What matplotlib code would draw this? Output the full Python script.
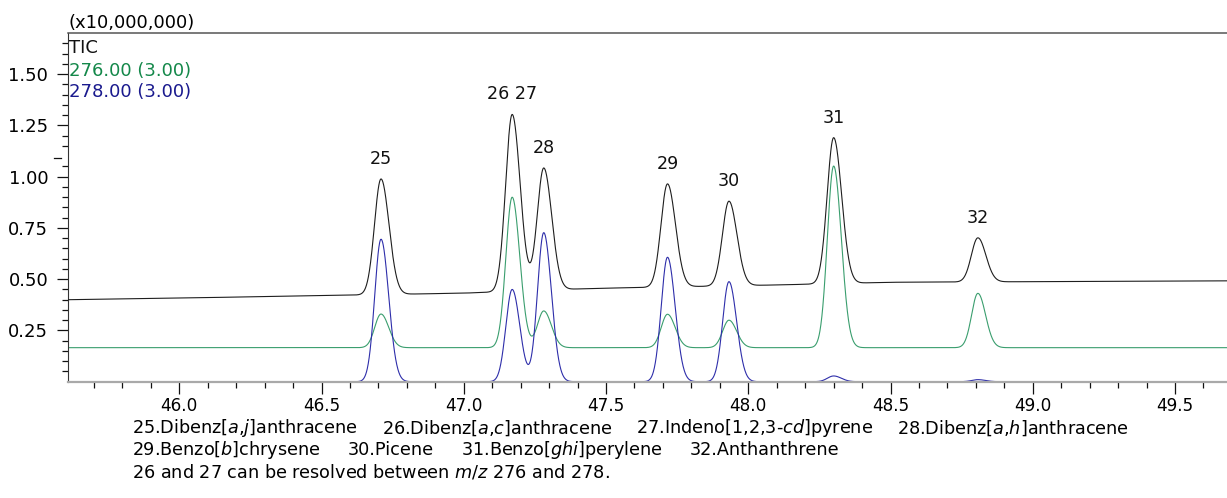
import numpy as np
import matplotlib
matplotlib.use("Agg")
import matplotlib.pyplot as plt
from matplotlib.ticker import FixedLocator, FormatStrFormatter
from matplotlib.transforms import blended_transform_factory

plt.rcParams["font.family"] = ["DejaVu Sans"]

# ---------------- data ----------------
peak_labels = ["25", "26 27", "28", "29", "30", "31", "32"]
peak_rt = [46.709, 47.170, 47.281, 47.716, 47.932, 48.300, 48.807]
tic_amp = [0.564, 0.863, 0.596, 0.503, 0.413, 0.712, 0.215]
mz276_amp = [0.164, 0.734, 0.179, 0.163, 0.134, 0.886, 0.265]
mz278_amp = [0.695, 0.450, 0.727, 0.607, 0.488, 0.028, 0.010]
peak_sigma = {"TIC": 0.025, "276": 0.024, "278": 0.024}
tic_base_rt = [45.61, 46.0, 46.5, 47.0, 47.45, 48.1, 48.5, 49.68]
tic_base_val = [0.400, 0.408, 0.420, 0.432, 0.455, 0.472, 0.485, 0.492]
mz276_base = 0.166
mz278_base = 0.0
trace_names = ["TIC", "276.00 (3.00)", "278.00 (3.00)"]
x_ticks = [46.0, 46.5, 47.0, 47.5, 48.0, 48.5, 49.0, 49.5]
y_ticks = [0.25, 0.50, 0.75, 1.00, 1.25, 1.50]
scale_label = "(x10,000,000)"
caption_line1 = [r"25.Dibenz[$\mathit{a{,}j}$]anthracene",
                 r"26.Dibenz[$\mathit{a{,}c}$]anthracene",
                 r"27.Indeno[1,2,3-$\mathit{cd}$]pyrene",
                 r"28.Dibenz[$\mathit{a{,}h}$]anthracene"]
caption_line2 = [r"29.Benzo[$\mathit{b}$]chrysene",
                 "30.Picene",
                 r"31.Benzo[$\mathit{ghi}$]perylene",
                 "32.Anthanthrene"]
caption_line3 = r"26 and 27 can be resolved between $\mathit{m/z}$ 276 and 278."

# ---------------- figure ----------------
W, H = 1227, 498
fig = plt.figure(figsize=(W / 100, H / 100), dpi=100)
ax_l, ax_b, ax_t = 68, 381.7, 32.7
ax = fig.add_axes([ax_l / W, (H - ax_b) / H, 1 - ax_l / W, (ax_b - ax_t) / H])

x0 = 46.0 - (179.3 - ax_l) / 284.5
x1 = 46.0 + (W - 179.3) / 284.5
t = np.linspace(x0, x1, 6000)


def peak_shape(x, center, sigma):
    s = np.where(x < center, sigma * 0.92, sigma * 1.12)
    return np.exp(-0.5 * ((x - center) / s) ** 2)


def trace(base, amps, sigma):
    y = np.array(base, dtype=float) * np.ones_like(t)
    for rt, a in zip(peak_rt, amps):
        y = y + a * peak_shape(t, rt, sigma)
    return y


tic = trace(np.interp(t, tic_base_rt, tic_base_val), tic_amp, peak_sigma["TIC"])
g276 = trace(mz276_base, mz276_amp, peak_sigma["276"])
b278 = trace(mz278_base, mz278_amp, peak_sigma["278"])

c_tic, c_276, c_278 = "#1e1e1e", "#3a9e6e", "#2e2eaa"
ax.plot(t, tic, color=c_tic, lw=0.8, zorder=3)
ax.plot(t, g276, color=c_276, lw=0.8, zorder=2)
ax.plot(t, b278, color=c_278, lw=0.8, zorder=2.2)

ax.set_xlim(x0, x1)
ax.set_ylim(0, (ax_b - ax_t) / 205.0)

# peak labels
for lab, rt in zip(peak_labels, peak_rt):
    m = np.abs(t - rt) < 0.02
    apex = tic[m].max()
    ax.annotate(lab, xy=(rt, apex), xytext=(0, 14.4), textcoords="offset points",
                ha="center", va="center", fontsize=12.6, color="#111111")

# spines
ax.spines["right"].set_visible(False)
ax.spines["top"].set_color("#555555")
ax.spines["top"].set_linewidth(1.1)
ax.spines["left"].set_color("#333333")
ax.spines["left"].set_linewidth(0.8)
ax.spines["bottom"].set_color("#a9a9a9")
ax.spines["bottom"].set_linewidth(1.6)
ax.spines["bottom"].set_zorder(4)

# ticks
ax.xaxis.set_major_locator(FixedLocator(x_ticks))
ax.xaxis.set_minor_locator(FixedLocator(np.round(np.arange(45.7, 49.7, 0.1), 2)))
ax.xaxis.set_major_formatter(FormatStrFormatter("%.1f"))
ax.yaxis.set_major_locator(FixedLocator(y_ticks))
ymin_ticks = [v for v in np.round(np.arange(0.05, 1.70, 0.05), 2)
              if v not in y_ticks and abs(v - 1.10) > 1e-6]
ax.yaxis.set_minor_locator(FixedLocator(ymin_ticks))
ax.yaxis.set_major_formatter(FormatStrFormatter("%.2f"))
ax.tick_params(axis="x", which="major", direction="out", length=8.4, width=0.9,
               color="#111111", pad=2.8, labelsize=12.2)
ax.tick_params(axis="x", which="minor", direction="out", length=4.3, width=0.9,
               color="#111111")
ax.tick_params(axis="y", which="major", direction="out", length=7.7, width=0.9,
               color="#111111", pad=6.5, labelsize=13)
ax.tick_params(axis="y", which="minor", direction="out", length=4.3, width=0.9,
               color="#111111")

# odd offset tick near 1.10
tr = blended_transform_factory(ax.transAxes, ax.transData)
ax.plot([(54.3 - ax_l) / (W - ax_l), (61 - ax_l) / (W - ax_l)], [1.09, 1.09],
        color="#111111", lw=0.9, transform=tr, clip_on=False)

# header texts
fig.text(69 / W, (H - 23) / H, scale_label, fontsize=13, va="center", ha="left")
for name, yc, col in zip(trace_names, [47.7, 70.7, 92.3], ["#111111", "#14884a", "#1a1a8e"]):
    fig.text(69 / W, (H - yc) / H, name, fontsize=13, va="center", ha="left", color=col)

# caption
renderer = fig.canvas.get_renderer()


def put_row(items, y_px, gap_px):
    x = 132
    for it in items:
        tx = fig.text(x / W, (H - y_px) / H, it, fontsize=12.7, va="center", ha="left")
        bb = tx.get_window_extent(renderer)
        x = x + bb.width + gap_px


put_row(caption_line1, 428, 24)
put_row(caption_line2, 450, 27)
put_row([caption_line3], 472, 0)

fig.savefig("out.png", dpi=100)
